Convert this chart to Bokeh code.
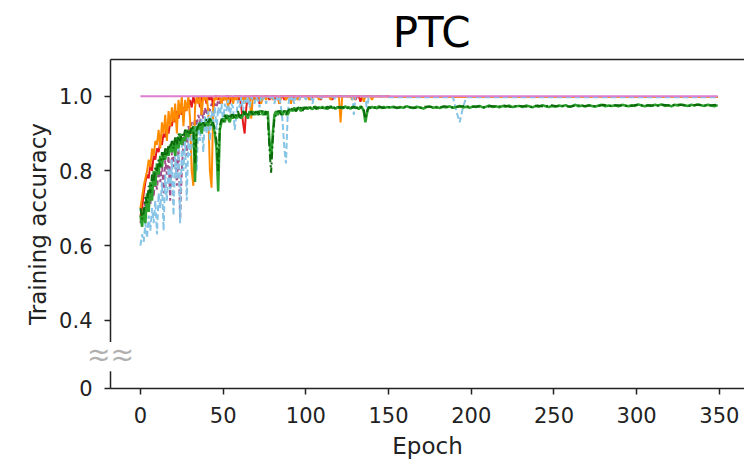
from bokeh.plotting import figure
from bokeh.models import FixedTicker, LinearAxis, Label, Range1d, CustomJSTickFormatter
from bokeh.embed import file_html
from bokeh.resources import INLINE

# ---------------- data ----------------
epochs_early = list(range(0, 150))
epochs_late = list(range(151, 350, 2))
epochs_late_dg = list(range(152, 350, 4))
epochs_all = list(range(0, 350))

x_ticks = [0, 50, 100, 150, 200, 250, 300, 350]
y_tick_values = [0.217, 0.4, 0.6, 0.8, 1.0]
y_tick_labels = ["0", "0.4", "0.6", "0.8", "1.0"]

red_early = [0.68,0.70,0.74,0.77,0.79,0.78,0.82,0.80,0.84,0.83,
             0.86,0.85,0.88,0.87,0.90,0.89,0.92,0.90,0.93,0.92,
             0.95,0.93,0.96,0.94,0.97,0.95,0.97,0.96,0.98,0.97,
             0.99,0.97,1.00,0.98,0.99,1.00,0.97,1.00,0.99,1.00,
             0.98,1.00,0.99,1.00,0.97,1.00,1.00,0.99,1.00,0.98,
             1.00,0.99,1.00,1.00,0.98,1.00,0.99,1.00,1.00,0.99,
             1.00,0.97,0.93,0.90,0.97,1.00,0.99,1.00,1.00,0.99,
             1.00,1.00,0.98,1.00,0.99,1.00,1.00,1.00,0.99,1.00,
             1.00,0.99,1.00,1.00,0.98,1.00,1.00,0.99,1.00,1.00,
             1.00,1.00,0.99,1.00,1.00,1.00,0.99,1.00,1.00,1.00,
             1.00,1.00,1.00,0.99,1.00,1.00,1.00,1.00,1.00,0.99,
             1.00,1.00,1.00,1.00,1.00,1.00,0.99,1.00,1.00,1.00,
             1.00,1.00,1.00,1.00,1.00,1.00,1.00,1.00,1.00,1.00,
             0.99,1.00,1.00,0.985,1.00,1.00,1.00,1.00,1.00,1.00,
             1.00,1.00,1.00,1.00,1.00,1.00,1.00,1.00,1.00,1.00]
red_late = [0.998] * 100

orange_early = [0.70,0.73,0.76,0.78,0.80,0.83,0.81,0.86,0.84,0.88,
                0.87,0.91,0.86,0.93,0.90,0.95,0.88,0.96,0.92,0.97,
                0.93,0.98,0.90,0.99,0.95,1.00,0.92,0.99,0.96,1.00,
                0.94,0.80,0.76,0.97,1.00,0.98,1.00,0.95,1.00,0.99,
                1.00,0.96,0.80,0.755,0.97,1.00,0.99,1.00,1.00,0.98,
                1.00,0.99,1.00,0.97,1.00,1.00,0.98,1.00,0.99,1.00,
                1.00,0.99,1.00,0.98,1.00,1.00,1.00,0.94,1.00,1.00,
                0.99,1.00,1.00,0.98,1.00,1.00,0.99,1.00,1.00,1.00,
                0.99,1.00,1.00,1.00,0.98,1.00,1.00,1.00,0.99,1.00,
                1.00,0.98,1.00,1.00,1.00,0.99,1.00,1.00,1.00,1.00,
                1.00,1.00,0.99,1.00,1.00,1.00,1.00,1.00,0.99,1.00,
                1.00,1.00,1.00,1.00,1.00,0.99,1.00,1.00,1.00,1.00,
                1.00,0.93,1.00,1.00,1.00,1.00,1.00,1.00,0.99,1.00,
                1.00,1.00,1.00,1.00,1.00,0.985,1.00,1.00,1.00,1.00,
                0.99,1.00,1.00,1.00,1.00,1.00,1.00,1.00,1.00,1.00]
orange_late = [0.998] * 100

skyblue_early = [0.60,0.63,0.61,0.66,0.62,0.68,0.64,0.70,0.66,0.72,
                 0.63,0.74,0.70,0.77,0.64,0.79,0.72,0.81,0.75,0.83,
                 0.68,0.84,0.78,0.86,0.66,0.87,0.80,0.88,0.72,0.89,
                 0.84,0.90,0.86,0.92,0.80,0.93,0.88,0.94,0.85,0.95,
                 0.90,0.96,0.88,0.96,0.93,0.97,0.91,0.97,0.95,0.98,
                 0.93,0.98,0.96,0.99,0.94,0.98,0.97,0.91,0.95,0.99,
                 0.97,1.00,0.96,0.99,0.98,1.00,0.97,1.00,0.99,0.98,
                 1.00,0.99,0.97,1.00,0.99,1.00,0.98,1.00,1.00,0.99,
                 1.00,0.98,1.00,0.99,1.00,0.97,0.93,0.86,0.82,0.95,
                 1.00,0.99,1.00,0.98,1.00,1.00,0.99,1.00,1.00,1.00,
                 0.99,1.00,1.00,1.00,0.98,1.00,1.00,1.00,1.00,0.99,
                 1.00,1.00,1.00,1.00,1.00,1.00,1.00,0.99,1.00,1.00,
                 1.00,1.00,1.00,1.00,1.00,1.00,1.00,1.00,1.00,0.95,
                 1.00,1.00,1.00,1.00,1.00,1.00,1.00,0.96,1.00,1.00,
                 1.00,1.00,1.00,1.00,1.00,1.00,1.00,1.00,1.00,1.00]
skyblue_late = [0.997] * 20 + [0.96, 0.93, 0.97] + [0.997] * 77

purple_early = [0.66,0.69,0.67,0.72,0.70,0.74,0.71,0.76,0.73,0.78,
                0.75,0.80,0.77,0.82,0.74,0.83,0.79,0.84,0.72,0.85,
                0.81,0.86,0.76,0.87,0.67,0.80,0.88,0.90,0.84,0.92,
                0.90,0.93,0.91,0.94,0.92,0.95,0.93,0.96,0.94,0.97,
                0.95,0.97,0.96,0.98,0.97,0.98,0.97,0.99,0.98,0.99,
                0.99,1.00,0.99,1.00,1.00,0.99,1.00,1.00,0.99,1.00,
                1.00,1.00,0.99,1.00,1.00,1.00,1.00,0.99,1.00,1.00,
                1.00,1.00,1.00,1.00,0.99,1.00,1.00,1.00,1.00,1.00,
                1.00,1.00,1.00,1.00,1.00,1.00,1.00,1.00,0.99,1.00,
                1.00,1.00,1.00,1.00,1.00,1.00,1.00,1.00,1.00,1.00,
                1.00,1.00,1.00,1.00,1.00,1.00,1.00,1.00,1.00,1.00,
                1.00,1.00,1.00,1.00,1.00,1.00,1.00,1.00,1.00,1.00,
                1.00,1.00,1.00,1.00,1.00,1.00,1.00,1.00,1.00,1.00,
                1.00,1.00,1.00,1.00,1.00,1.00,1.00,1.00,1.00,1.00,
                1.00,1.00,1.00,1.00,1.00,1.00,1.00,1.00,1.00,1.00]
purple_late = [0.998] * 100

green_early = [0.68,0.65,0.70,0.66,0.74,0.69,0.77,0.72,0.80,0.76,
               0.82,0.79,0.84,0.81,0.85,0.83,0.86,0.84,0.87,0.85,
               0.88,0.84,0.89,0.86,0.90,0.87,0.89,0.88,0.91,0.89,
               0.91,0.90,0.92,0.77,0.92,0.91,0.93,0.90,0.93,0.92,
               0.93,0.92,0.94,0.93,0.92,0.90,0.86,0.745,0.91,0.93,
               0.94,0.93,0.95,0.94,0.93,0.95,0.94,0.95,0.94,0.95,
               0.95,0.94,0.95,0.96,0.95,0.94,0.96,0.95,0.96,0.95,
               0.96,0.95,0.96,0.96,0.95,0.96,0.95,0.96,0.88,0.835,
               0.90,0.95,0.96,0.95,0.96,0.96,0.95,0.96,0.96,0.95,
               0.96,0.965,0.96,0.97,0.96,0.965,0.97,0.96,0.97,0.965,
               0.97,0.965,0.97,0.968,0.965,0.97,0.972,0.966,0.97,0.968,
               0.972,0.967,0.97,0.965,0.97,0.973,0.968,0.97,0.966,0.971,
               0.969,0.972,0.967,0.97,0.973,0.968,0.971,0.966,0.97,0.972,
               0.968,0.97,0.965,0.973,0.969,0.96,0.93,0.955,0.97,0.968,
               0.972,0.969,0.971,0.967,0.973,0.97,0.968,0.972,0.969,0.971]
green_late = [0.970,0.972,0.968,0.971,0.969,0.973,0.970,0.968,0.972,0.970,
              0.967,0.971,0.973,0.969,0.971,0.968,0.972,0.970,0.973,0.969,
              0.971,0.974,0.970,0.972,0.969,0.973,0.971,0.974,0.970,0.972,
              0.975,0.971,0.973,0.970,0.974,0.972,0.975,0.971,0.973,0.974,
              0.971,0.975,0.973,0.970,0.974,0.972,0.976,0.973,0.971,0.974,
              0.972,0.975,0.973,0.976,0.972,0.974,0.977,0.973,0.975,0.972,
              0.976,0.974,0.972,0.975,0.977,0.973,0.975,0.974,0.976,0.973,
              0.977,0.975,0.973,0.976,0.974,0.978,0.975,0.973,0.976,0.974,
              0.977,0.975,0.978,0.974,0.976,0.973,0.977,0.975,0.978,0.976,
              0.974,0.977,0.975,0.978,0.976,0.974,0.977,0.975,0.973,0.976]

darkgreen_early = [0.70,0.67,0.69,0.73,0.71,0.76,0.74,0.79,0.77,0.81,
                   0.80,0.83,0.81,0.85,0.83,0.86,0.84,0.87,0.86,0.88,
                   0.86,0.89,0.87,0.90,0.88,0.90,0.89,0.91,0.90,0.91,
                   0.90,0.92,0.91,0.82,0.91,0.92,0.93,0.92,0.93,0.92,
                   0.94,0.93,0.94,0.92,0.93,0.91,0.88,0.80,0.92,0.94,
                   0.93,0.95,0.94,0.95,0.94,0.95,0.95,0.94,0.95,0.96,
                   0.94,0.95,0.96,0.95,0.96,0.95,0.95,0.96,0.95,0.96,
                   0.95,0.96,0.95,0.96,0.96,0.95,0.96,0.94,0.86,0.795,
                   0.88,0.94,0.95,0.96,0.96,0.95,0.96,0.96,0.95,0.96,
                   0.965,0.96,0.97,0.965,0.96,0.97,0.965,0.97,0.96,0.97,
                   0.968,0.97,0.965,0.971,0.968,0.972,0.966,0.97,0.969,0.972,
                   0.968,0.971,0.967,0.972,0.969,0.97,0.973,0.967,0.971,0.969,
                   0.972,0.968,0.971,0.969,0.972,0.97,0.967,0.972,0.969,0.971,
                   0.97,0.968,0.972,0.969,0.971,0.965,0.94,0.96,0.971,0.969,
                   0.97,0.972,0.968,0.971,0.969,0.972,0.97,0.968,0.971,0.97]
darkgreen_late = [0.971,0.969,0.972,0.970,0.968,0.972,0.971,0.969,0.973,0.970,
                  0.972,0.974,0.971,0.973,0.970,0.974,0.972,0.975,0.971,0.974,
                  0.973,0.971,0.975,0.972,0.976,0.973,0.974,0.972,0.976,0.974,
                  0.975,0.973,0.977,0.974,0.976,0.975,0.973,0.977,0.975,0.976,
                  0.974,0.977,0.975,0.978,0.976,0.974,0.977,0.976,0.975,0.977]

pink_acc = [1.0] * 350

title_text = "PTC"

# ---------------- figure ----------------
# The frame covers the whole canvas; axes are pinned with fixed_location.
FONT = "DejaVu Sans"
x_view_start, x_view_end = -84.6, 365.2
x_axis_start = -18.1            # where the y axis line sits
y_view_start, y_view_end = 0.0241, 1.2564
y_axis_bottom, y_axis_top = 0.217, 1.098

p = figure(width=744, height=460, output_backend="svg", toolbar_location=None,
           title=None,
           x_range=Range1d(x_view_start, x_view_end),
           y_range=Range1d(y_view_start, y_view_end),
           min_border_left=0, min_border_right=0, min_border_top=0,
           min_border_bottom=0)
p.outline_line_color = None
p.xgrid.visible = False
p.ygrid.visible = False
p.background_fill_color = "white"
p.border_fill_color = "white"

AX_COLOR = "#222222"

def style_axis(ax):
    ax.axis_line_color = AX_COLOR
    ax.axis_line_width = 1.5
    ax.major_tick_line_color = AX_COLOR
    ax.major_tick_line_width = 1.5
    ax.major_tick_out = 6
    ax.major_tick_in = 0
    ax.minor_tick_line_color = None
    ax.major_label_text_font = FONT
    ax.major_label_text_font_size = "21px"
    ax.major_label_text_color = "#222222"
    ax.axis_label_text_font = FONT
    ax.axis_label_text_font_size = "23px"
    ax.axis_label_text_font_style = "normal"
    ax.axis_label_text_color = "#222222"

xa = p.xaxis[0]
style_axis(xa)
xa.fixed_location = y_axis_bottom
xa.ticker = FixedTicker(ticks=x_ticks)
xa.bounds = (x_axis_start, x_view_end)
xa.axis_label = "Epoch"
xa.major_label_standoff = 13
xa.axis_label_standoff = 6

ya = p.yaxis[0]
style_axis(ya)
ya.fixed_location = x_axis_start
ya.bounds = (y_axis_bottom, y_axis_top)
ya.ticker = FixedTicker(ticks=y_tick_values)
ya.formatter = CustomJSTickFormatter(args=dict(vals=y_tick_values, labs=y_tick_labels), code="""
let best = 0;
for (let i = 0; i < vals.length; i++) {
  if (Math.abs(vals[i] - tick) < Math.abs(vals[best] - tick)) best = i;
}
return labs[best];
""")
ya.axis_label = "Training accuracy"
ya.major_label_standoff = 12
ya.axis_label_standoff = 5

top_axis = LinearAxis(ticker=FixedTicker(ticks=[]), major_tick_out=0, major_tick_in=0,
                      major_label_standoff=0, axis_line_color=AX_COLOR, axis_line_width=1.5,
                      minor_tick_line_color=None, major_label_text_font_size="0px",
                      bounds=(x_axis_start, x_view_end), fixed_location=y_axis_top)
p.add_layout(top_axis, "above")

LW = 2
p.line(epochs_early + epochs_late, purple_early + purple_late, color="#a0508c",
       line_width=LW, line_dash="5 3")
p.line(epochs_early + epochs_late, red_early + red_late, color="#e41a1c", line_width=LW)
p.line(epochs_early + epochs_late, orange_early + orange_late, color="#ff8c00", line_width=LW)
p.line(epochs_early + epochs_late, skyblue_early + skyblue_late, color="#87c4e6",
       line_width=LW, line_dash="6 3")
p.line(epochs_early + epochs_late, green_early + green_late, color="#2ca02c", line_width=2.5)
p.line(epochs_early + epochs_late_dg, darkgreen_early + darkgreen_late, color="#0b6b0b",
       line_width=LW, line_dash="8 3 2 3")
p.line(epochs_all, pink_acc, color="#dd7fd0", line_width=LW)

# title (inside the canvas-wide frame)
p.add_layout(Label(x=176.0, y=1.1707, text=title_text, text_font=FONT, text_font_size="42px",
                   text_color="black", text_align="center", text_baseline="alphabetic"))

# axis break marker
brk_y = 0.305
p.add_layout(Label(x=x_axis_start, y=brk_y, text="\u2588", text_font_size="24px",
                   text_color="white", text_align="center", text_baseline="middle",
                   background_fill_color="white"))
p.add_layout(Label(x=x_axis_start, y=brk_y, text="~~", text_font=FONT, text_font_size="28px",
                   text_color="#b0b0b0", text_align="center", text_baseline="middle",
                   y_offset=4))
p.add_layout(Label(x=x_axis_start, y=brk_y, text="~~", text_font=FONT, text_font_size="28px",
                   text_color="#b0b0b0", text_align="center", text_baseline="middle",
                   y_offset=-3))

open("out.html", "w").write(file_html(p, INLINE))
